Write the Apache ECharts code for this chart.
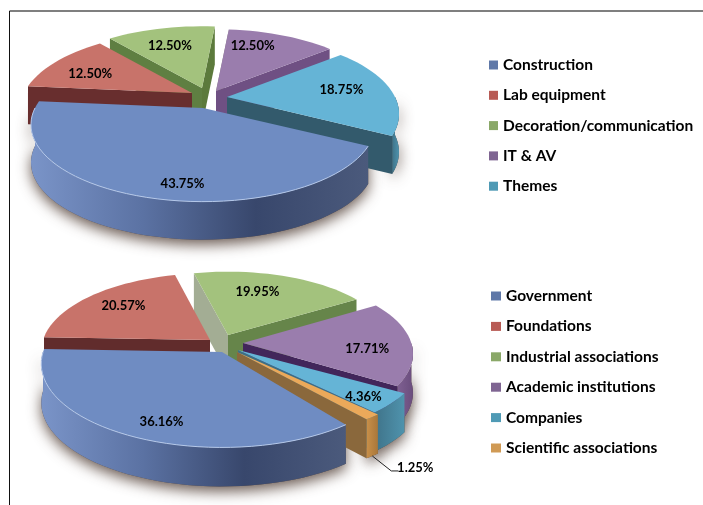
<!DOCTYPE html>
<html>
<head>
<meta charset="utf-8">
<title>Pie charts</title>
<style>
  html, body { margin: 0; padding: 0; background: #fff; }
  #main { width: 703px; height: 505px; }
</style>
<script src="https://cdn.jsdelivr.net/npm/echarts@6/dist/echarts.min.js"></script>
</head>
<body>
<div id="main"></div>
<script>
const topCategories = ['Construction', 'Lab equipment', 'Decoration/communication', 'IT & AV', 'Themes']
const topValues = [43.75, 12.5, 12.5, 12.5, 18.75]
const bottomCategories = ['Government', 'Foundations', 'Industrial associations', 'Academic institutions', 'Companies', 'Scientific associations']
const bottomValues = [36.16, 20.57, 19.95, 17.71, 4.36, 1.25]

// colours per slice: top face, rim gradient, legend swatch
const palette = [
  { top: '#6f8cc2', rim: ['#7a94c8', '#5b72a3', '#38476c', '#4b5a7c'], legend: '#5f78a8', edge: '#b4c8ea' },
  { top: '#c8736a', rim: ['#a85a52', '#8a4640'], legend: '#b85b55' },
  { top: '#a3c27d', rim: ['#7f9c5c', '#64824a'], legend: '#8aa868' },
  { top: '#9a7dad', rim: ['#7f6092', '#6a4d7d'], legend: '#7f6592' },
  { top: '#65b4d6', rim: ['#3f7389', '#4f93ad'], legend: '#4f9ab5' },
  { top: '#eba95a', rim: ['#c99049', '#a9773a'], legend: '#d09a55' }
]

// pie layout: rx/ry/k describe the projected disc, depth is the extrusion
const topPie = {
  start: 27.8, rx: 168, ry: 75, k: 0.215, depth: 38,
  apex: [[203, 108], [192, 93], [202, 88], [216, 91], [227, 97]],
  scale: [[1, 0.98], [1, 1], [1, 1], [1, 1], [1, 1]],
  cuts: [['#4d5f88', '#4d5f88'], ['#682e2e', '#7d3c38'], ['#5f7f42', '#5c7a3c'], ['#8b8581', '#6f5083'], ['#3c6f85', '#335a6c']],
  labelNudge: [[20, 16], [-2, 4], [-1, 3], [-13, -3], [-4, -2]]
}
const bottomPie = {
  start: 52, rx: 187, ry: 76, k: 0.14, depth: 39,
  apex: [[222, 352], [210, 340], [228, 335], [243, 343], [238, 350], [237, 352]],
  scale: [[0.957, 1.08], [0.893, 1], [0.87, 0.95], [0.9, 1], [0.97, 1], [1, 1]],
  cuts: [['#4d5f88', '#4d5f88'], ['#612c2c', '#7d3c38'], ['#a3ad94', '#66854a'], ['#6f5083', '#42265a'], ['#3c6f85', '#3c6f85'], ['#a9773a', '#8a683c']],
  labelNudge: [[4, 12], [1, -2], [-11, 1], [3, 6], [18, 9], [0, 0]],
  leader: { index: 5, elbow: [19, 15], end: [26, 15], text: [43, 12] }
}
// slices painted back to front
const topOrder = [2, 3, 1, 4, 0]
const bottomOrder = [2, 1, 3, 4, 5, 0]

const labelFont = 'bold 13px Lato'

const project = (pie, i, deg, r) => {
  const a = deg * Math.PI / 180
  const x = Math.cos(a) * r
  const y = Math.sin(a) * r
  const w = 1 - pie.k * y
  const s = pie.scale[i]
  return [pie.apex[i][0] + pie.rx * s[0] * x / w, pie.apex[i][1] + pie.ry * s[1] * y / w]
}

const arcPoints = (pie, i, a0, a1) => {
  const pts = []
  const n = Math.max(4, Math.ceil(Math.abs(a1 - a0) / 3))
  for (let j = 0; j <= n; j++) pts.push(project(pie, i, a0 + (a1 - a0) * j / n, 1))
  return pts
}

const down = (pts, d) => pts.map(p => [p[0], p[1] + d])

const cutFace = (apex, p, d, fill, z) => ({
  type: 'polygon', z2: z,
  shape: { points: [apex, p, [p[0], p[1] + d], [apex[0], apex[1] + d]] },
  style: { fill }
})

const makeSlice = (pie, values, i, order) => {
  const total = values.reduce((a, b) => a + b, 0)
  let a0 = pie.start
  for (let j = 0; j < i; j++) a0 += values[j] / total * 360
  const a1 = a0 + values[i] / total * 360
  const col = palette[i]
  const arc = arcPoints(pie, i, a0, a1)
  const apex = pie.apex[i]
  const d = pie.depth
  const z = 10 + order * 5
  const children = []

  // only the part of the rim that faces the viewer gets drawn
  const wrap = a0 >= 360 ? 360 : 0
  const from = Math.max(a0 - wrap, a1 - wrap > 360 ? 360 : 0)
  const to = a1 - wrap > 360 ? Math.min(a1 - wrap, 540) : Math.min(a1 - wrap, 180)
  if (to > from) {
    const rim = arcPoints(pie, i, from, to)
    const xs = rim.map(p => p[0])
    const stops = col.rim.map((c, n) => ({ offset: n / (col.rim.length - 1), color: c }))
    const band = rim.concat(down(rim, d).reverse())
    children.push({
      type: 'polygon', z2: 1, shape: { points: band },
      style: { fill: '#5a4a42', shadowBlur: 14, shadowColor: 'rgba(70,50,40,0.8)', shadowOffsetY: 5 }
    })
    children.push({
      type: 'polygon', z2: z, shape: { points: band },
      style: { fill: new echarts.graphic.LinearGradient(Math.min(...xs), 0, Math.max(...xs), 0, stops, true) }
    })
    if (col.edge) {
      children.push({ type: 'polyline', z2: z + 3, shape: { points: rim }, style: { stroke: col.edge, lineWidth: 1, fill: null } })
    }
  }

  // cut faces, skipped when they turn away from the viewer
  if (-Math.cos(a0 * Math.PI / 180) > -0.2) children.push(cutFace(apex, arc[0], d, pie.cuts[i][0], z + 1))
  if (Math.cos(a1 * Math.PI / 180) > -0.2) children.push(cutFace(apex, arc[arc.length - 1], d, pie.cuts[i][1], z + 1))

  children.push({ type: 'polygon', z2: z + 2, shape: { points: [apex].concat(arc) }, style: { fill: col.top } })

  const label = values[i].toFixed(2) + '%'
  if (pie.leader && pie.leader.index === i) {
    const p = project(pie, i, (a0 + a1) / 2, 1)
    const start = [p[0], p[1] + d]
    const lead = pie.leader
    children.push({
      type: 'polyline', z2: 200,
      shape: { points: [start, [start[0] + lead.elbow[0], start[1] + lead.elbow[1]], [start[0] + lead.end[0], start[1] + lead.end[1]]] },
      style: { stroke: '#222', lineWidth: 1, fill: null }
    })
    children.push({
      type: 'text', z2: 200,
      style: { text: label, x: start[0] + lead.text[0], y: start[1] + lead.text[1], font: labelFont, fill: '#000', textAlign: 'center', textVerticalAlign: 'middle' }
    })
  } else {
    const mid = project(pie, i, (a0 + a1) / 2, 0.72)
    const nudge = pie.labelNudge[i]
    children.push({
      type: 'text', z2: 200,
      style: { text: label, x: mid[0] + nudge[0], y: mid[1] + nudge[1], font: labelFont, fill: '#000', textAlign: 'center', textVerticalAlign: 'middle' }
    })
  }
  return { type: 'group', children }
}

const buildSeries = (names, values, pie, order) => names.map((name, i) => ({
  type: 'custom',
  name,
  coordinateSystem: 'none',
  silent: true,
  itemStyle: { color: palette[i].legend },
  data: [[values[i]]],
  renderItem: () => makeSlice(pie, values, i, order.indexOf(i))
}))

const legendText = { fontFamily: 'Lato', fontWeight: 'bold', fontSize: 15.5, color: '#000', lineHeight: 16 }

const option = {
  animation: false,
  backgroundColor: '#fff',
  legend: [
    {
      data: topCategories, orient: 'vertical', left: 489, top: 57, icon: 'rect',
      itemWidth: 9, itemHeight: 9, itemGap: 14.3, textStyle: legendText, selectedMode: false, padding: 0
    },
    {
      data: bottomCategories, orient: 'vertical', left: 491, top: 288, icon: 'rect',
      itemWidth: 10, itemHeight: 9, itemGap: 14.4, textStyle: legendText, selectedMode: false, padding: 0
    }
  ],
  graphic: [
    { type: 'line', shape: { x1: 9.5, y1: 11, x2: 703, y2: 11 }, style: { stroke: '#555', lineWidth: 1.5 } },
    { type: 'line', shape: { x1: 9.5, y1: 11, x2: 9.5, y2: 505 }, style: { stroke: '#111', lineWidth: 1 } }
  ],
  series: buildSeries(topCategories, topValues, topPie, topOrder)
    .concat(buildSeries(bottomCategories, bottomValues, bottomPie, bottomOrder))
}

const myChart = echarts.init(document.getElementById('main'))
myChart.setOption(option)
</script>
</body>
</html>
